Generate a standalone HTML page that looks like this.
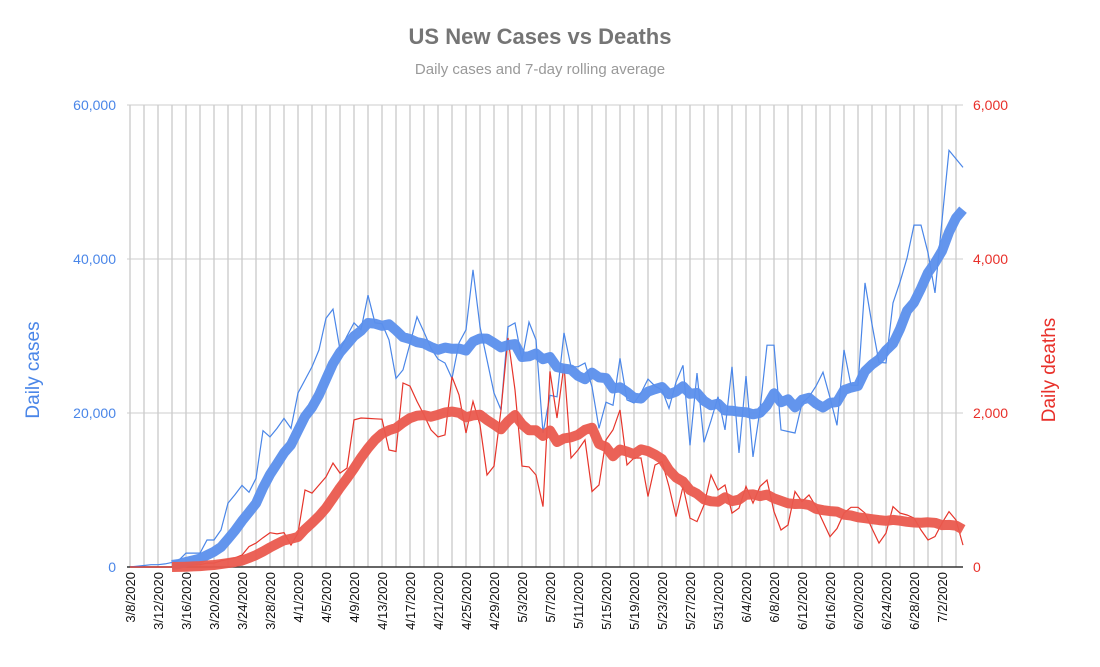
<!DOCTYPE html>
<html><head><meta charset="utf-8"><style>
body{margin:0;background:#fff;width:1100px;height:662px;overflow:hidden;font-family:"Liberation Sans",Arial,sans-serif}
</style></head><body>
<svg id="chart" width="1100" height="662" xmlns="http://www.w3.org/2000/svg" font-family="Liberation Sans, Arial, sans-serif">
<text x="540" y="44" text-anchor="middle" font-size="22" font-weight="bold" fill="#757575">US New Cases vs Deaths</text>
<text x="540" y="74" text-anchor="middle" font-size="15" fill="#999">Daily cases and 7-day rolling average</text>
<text transform="translate(39,370) rotate(-90)" text-anchor="middle" font-size="19" fill="#4a86e8">Daily cases</text>
<text transform="translate(1055,370) rotate(-90)" text-anchor="middle" font-size="19" fill="#e8302a">Daily deaths</text>
<g id="grid"></g><g id="axes"></g><g id="series"></g>
</svg>
<script>
const startDate = [2020, 3, 8];
const cases = [0,100,200,300,300,400,600,900,1800,1800,1800,3500,3500,4800,8300,9400,10600,9700,11500,17700,16900,18000,19300,18000,22600,24300,26000,28200,32300,33500,28200,30000,31700,30800,35300,31700,31600,29500,24500,25600,29000,32500,30500,28400,27000,26500,24500,29100,30800,38600,31200,26900,22600,20400,31200,31700,26900,31800,29500,17400,22300,22100,30400,26000,26000,26500,23400,18000,21400,21000,27100,21700,21300,22600,24400,23500,23000,20600,24000,26200,15800,25200,16200,19000,22100,17800,26000,14800,24800,14300,20400,28800,28800,17800,17600,17400,21300,22100,23500,25300,22000,18400,28200,23600,23600,36900,31500,26600,26500,34300,37000,40100,44400,44400,40800,35600,45000,54100,53000,51900];
const deaths = [0,0,0,0,0,0,0,10,20,25,30,50,50,80,100,120,155,265,310,380,445,430,445,285,440,1000,960,1065,1170,1350,1220,1285,1910,1935,1930,1925,1920,1520,1500,2390,2350,2150,1975,1780,1690,1715,2470,2235,1740,2150,1845,1195,1310,2040,2975,2300,1310,1300,1195,785,2540,1935,2625,1415,1520,1650,980,1065,1650,1780,2040,1325,1415,1415,915,1325,1370,1045,655,1045,635,590,805,1195,1000,1065,700,765,1045,830,1045,1130,720,480,545,980,850,935,785,590,395,500,700,775,775,700,500,310,440,785,700,675,635,480,350,395,570,720,610,285];
const leftTicks = [0,20000,40000,60000];
const leftTickLabels = ["0","20,000","40,000","60,000"];
const rightTicks = [0,2000,4000,6000];
const rightTickLabels = ["0","2,000","4,000","6,000"];

const X0=130, DX=7, Y0=567, H=462;
const x = i => X0 + DX*i;
const yL = v => Y0 - v/60000*H;
const yR = v => Y0 - v/6000*H;
const NS="http://www.w3.org/2000/svg";
function mk(tag, parent, attrs){const e=document.createElementNS(NS,tag);for(const k in attrs)e.setAttribute(k,attrs[k]);parent.appendChild(e);return e;}
const grid=document.getElementById('grid'), axes=document.getElementById('axes'), series=document.getElementById('series');
const n=cases.length, xEnd=x(n-1);
for(let i=0;i<n;i+=2){const l=mk('line',grid,{x1:x(i),x2:x(i),y1:yL(60000),y2:Y0,stroke:'#d0d0d0','stroke-width':1.5});

}
leftTicks.forEach((t,k)=>{const l=mk('line',grid,{x1:127,x2:xEnd,y1:yL(t),y2:yL(t),stroke:k==0?'#333':'#ccc','stroke-width':k==0?1.5:1});


const tl=mk('text',axes,{x:116,y:yL(t)+5,'text-anchor':'end','font-size':14,fill:'#4a86e8'});tl.textContent=leftTickLabels[k];

});
rightTicks.forEach((t,k)=>{const tl=mk('text',axes,{x:973,y:yR(t)+5,'text-anchor':'start','font-size':14,fill:'#e8302a'});tl.textContent=rightTickLabels[k];

});
const d0=new Date(startDate[0],startDate[1]-1,startDate[2]);
for(let i=0;i<n;i+=4){const d=new Date(d0.getTime()+i*86400000);
const lab=(d.getMonth()+1)+'/'+d.getDate()+'/'+d.getFullYear();
const tl=mk('text',axes,{transform:`translate(${x(i)+5},572) rotate(-90)`,'text-anchor':'end','font-size':13,fill:'#111'});tl.textContent=lab;

}
function roll(a){const r=[];for(let i=6;i<a.length;i++){let s=0;for(let j=i-6;j<=i;j++)s+=a[j];r.push([i,s/7]);}return r;}
function path(pts,yf){return pts.map((p,k)=>(k?'L':'M')+x(p[0]).toFixed(1)+','+yf(p[1]).toFixed(1)).join('');}
const pc=mk('path',series,{d:path(cases.map((v,i)=>[i,v]),yL),fill:'none',stroke:'#4a86e8','stroke-width':1.2});


const pd=mk('path',series,{d:path(deaths.map((v,i)=>[i,v]),yR),fill:'none',stroke:'#e6352b','stroke-width':1.2});


const ac=mk('path',series,{d:path(roll(cases),yL),fill:'none',stroke:'#5b8fec','stroke-width':10,'stroke-linejoin':'round','stroke-linecap':'butt',opacity:0.95});


const ad=mk('path',series,{d:path(roll(deaths),yR),fill:'none',stroke:'#ea5a4e','stroke-width':10,'stroke-linejoin':'round','stroke-linecap':'butt',opacity:0.95});


</script>
</body></html>
